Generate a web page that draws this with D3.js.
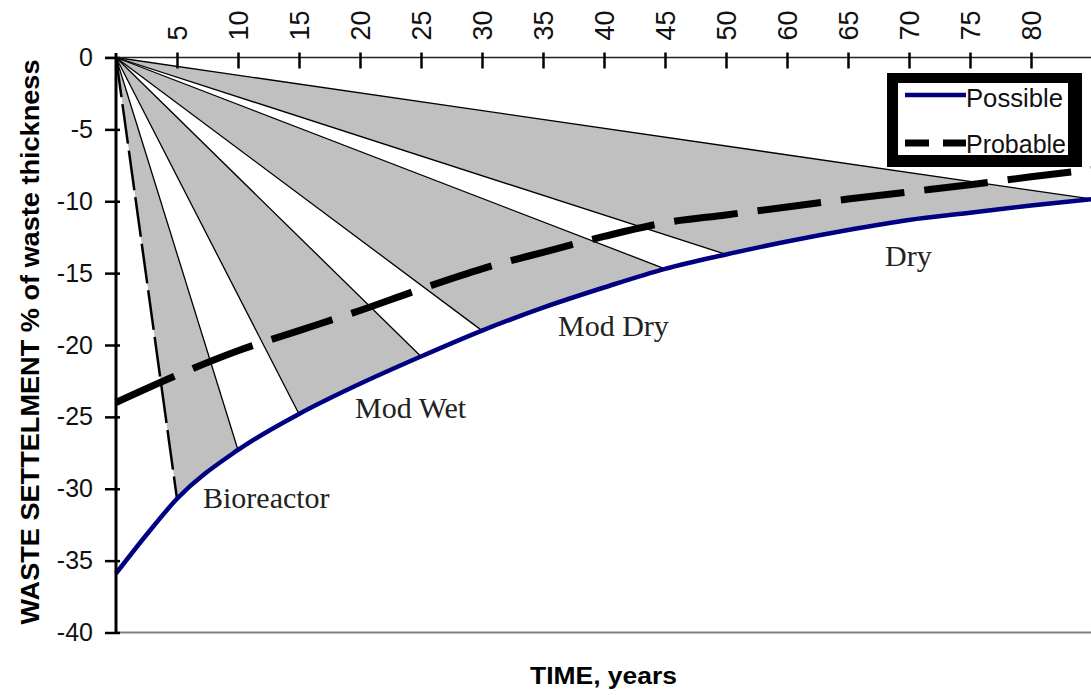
<!DOCTYPE html>
<html>
<head>
<meta charset="utf-8">
<script src="https://cdn.jsdelivr.net/npm/d3@7"></script>
<style>
  html, body { margin: 0; padding: 0; background: #fff; }
  svg { display: block; }
</style>
</head>
<body>
<svg id="chart" width="1091" height="695"></svg>
<script>
// ---- data ----
const possibleYears = [0, 2.5, 5, 10, 15, 20, 25, 30, 35, 40, 45, 50, 55, 60, 65, 70, 75, 80];
const possibleValues = [-35.9, -33.2, -30.7, -27.3, -24.8, -22.7, -20.8, -19.0, -17.4, -16.0, -14.7, -13.7, -12.8, -12.0, -11.3, -10.8, -10.3, -9.85];

const probableYears = [0, 5, 10, 15, 20, 25, 30, 35, 40, 45, 50, 55, 60, 65, 70, 75, 80];
const probableValues = [-24.0, -22.1, -20.4, -19.0, -17.6, -16.1, -14.7, -13.55, -12.45, -11.5, -10.95, -10.4, -9.85, -9.35, -8.85, -8.3, -7.8];

// shaded wedges (from year to year on the Possible curve)
const wedgeNames = ["Bioreactor", "Mod Wet", "Mod Dry", "Dry"];
const wedgeFrom = [5, 15, 30, 50];
const wedgeTo = [10, 25, 45, 80];
// radial boundary lines (end year on the Possible curve)
const fanLineYears = [5, 10, 15, 25, 30, 45, 50, 80];

// axis ticks
const xTickPositions = [5, 10, 15, 20, 25, 30, 35, 40, 45, 50, 55, 60, 65, 70, 75];
const xTickLabels = ["5", "10", "15", "20", "25", "30", "35", "40", "45", "50", "60", "65", "70", "75", "80"];
const yTickValues = [0, -5, -10, -15, -20, -25, -30, -35, -40];

const seriesNames = ["Possible", "Probable"];

// ---- layout ----
const svg = d3.select("#chart");
const x = d3.scaleLinear().domain([0, 80]).range([116, 1092]);
const y = d3.scaleLinear().domain([0, -40]).range([57.5, 632.5]);

const possible = possibleYears.map((t, i) => ({ t, v: possibleValues[i] }));
const probable = probableYears.map((t, i) => ({ t, v: probableValues[i] }));
const valAt = t => possible.find(d => d.t === t).v;

const line = d3.line().x(d => x(d.t)).y(d => y(d.v)).curve(d3.curveMonotoneX);

// wedges
const gW = svg.append("g");
wedgeFrom.forEach((a, i) => {
  const b = wedgeTo[i];
  const seg = possible.filter(d => d.t >= a && d.t <= b);
  const p = line(seg) + "L" + x(0) + "," + y(0) + "Z";
  gW.append("path").attr("d", p).attr("fill", "#c0c0c0").attr("stroke", "none");
});

// fan lines
const gF = svg.append("g");
fanLineYears.forEach((t, i) => {
  gF.append("line")
    .attr("x1", x(0)).attr("y1", y(0))
    .attr("x2", x(t)).attr("y2", y(valAt(t)))
    .attr("stroke", "#000")
    .attr("stroke-width", i === 0 ? 2.5 : 1.3)
    .attr("stroke-dasharray", i === 0 ? "40,7" : null);
});

// bottom border
svg.append("line")
  .attr("x1", x(0)).attr("x2", 1091)
  .attr("y1", y(-40)).attr("y2", y(-40))
  .attr("stroke", "#808080").attr("stroke-width", 2);

// Probable dashed
svg.append("path")
  .attr("d", line(probable))
  .attr("fill", "none").attr("stroke", "#000")
  .attr("stroke-width", 7).attr("stroke-dasharray", "64,20");

// Possible
svg.append("path")
  .attr("d", line(possible))
  .attr("fill", "none").attr("stroke", "#000080")
  .attr("stroke-width", 4.5);

// x axis (top)
const xAxis = d3.axisTop(x)
  .tickValues(xTickPositions)
  .tickFormat((d, i) => xTickLabels[i])
  .tickSizeInner(-11).tickSizeOuter(0);
const gx = svg.append("g").attr("transform", `translate(0,${y(0)})`).call(xAxis);
gx.select(".domain").attr("d", `M105,0H1091`).attr("stroke", "#222").attr("stroke-width", 1.6);
gx.selectAll(".tick line").attr("y1", -5).attr("stroke", "#000").attr("stroke-width", 2.5);
gx.selectAll(".tick text")
  .attr("transform", "rotate(-90)")
  .attr("text-anchor", "start")
  .attr("x", 17).attr("y", 0).attr("dy", "0.36em")
  .attr("font-family", "Liberation Sans, Arial, sans-serif")
  .attr("font-size", 27).attr("fill", "#111");

// y axis
const yAxis = d3.axisLeft(y).tickValues(yTickValues)
  .tickFormat(d => String(d))
  .tickSizeInner(9).tickSizeOuter(0).tickPadding(14);
const gy = svg.append("g").attr("transform", `translate(${x(0)},0)`).call(yAxis);
gy.select(".domain").attr("d", `M0,53V${y(-40)}`).attr("stroke", "#000").attr("stroke-width", 3);
gy.selectAll(".tick line").attr("x2", -11).attr("x1", 4).attr("stroke", "#000").attr("stroke-width", 2.5);
gy.selectAll(".tick text")
  .attr("font-family", "Liberation Sans, Arial, sans-serif")
  .attr("font-size", 25).attr("fill", "#111");

// axis titles
svg.append("text")
  .attr("transform", `translate(39,342) rotate(-90)`)
  .attr("text-anchor", "middle")
  .attr("font-family", "Liberation Sans, Arial, sans-serif")
  .attr("font-weight", "bold").attr("font-size", 26)
  .attr("textLength", 565).attr("lengthAdjust", "spacingAndGlyphs")
  .text("WASTE SETTELMENT % of waste thickness");

svg.append("text")
  .attr("x", 530).attr("y", 684)
  .attr("font-family", "Liberation Sans, Arial, sans-serif")
  .attr("font-weight", "bold").attr("font-size", 23)
  .attr("textLength", 147).attr("lengthAdjust", "spacingAndGlyphs")
  .text("TIME, years");

// wedge labels
const labelPos = [[203, 508], [355, 418], [558, 336], [885, 266]];
wedgeNames.forEach((n, i) => {
  svg.append("text")
    .attr("x", labelPos[i][0]).attr("y", labelPos[i][1])
    .attr("font-family", "Liberation Serif, Times New Roman, serif")
    .attr("font-size", 30).attr("fill", "#222")
    .text(n);
});

// legend
const lg = svg.append("g");
lg.append("rect").attr("x", 887).attr("y", 73).attr("width", 195).attr("height", 94).attr("fill", "#000");
lg.append("rect").attr("x", 898).attr("y", 83).attr("width", 170).attr("height", 72).attr("fill", "#fff");
lg.append("line").attr("x1", 905).attr("x2", 966).attr("y1", 95).attr("y2", 95)
  .attr("stroke", "#000080").attr("stroke-width", 4.5);
lg.append("line").attr("x1", 905).attr("x2", 966).attr("y1", 143).attr("y2", 143)
  .attr("stroke", "#000").attr("stroke-width", 7).attr("stroke-dasharray", "24,14");
[[966, 107], [966, 153]].forEach((p, i) => {
  lg.append("text").attr("x", p[0]).attr("y", p[1])
    .attr("font-family", "Liberation Sans, Arial, sans-serif")
    .attr("font-size", 25).attr("fill", "#111")
    .attr("textLength", i === 0 ? 97 : 100).attr("lengthAdjust", "spacingAndGlyphs")
    .text(seriesNames[i]);
});
</script>
</body>
</html>
